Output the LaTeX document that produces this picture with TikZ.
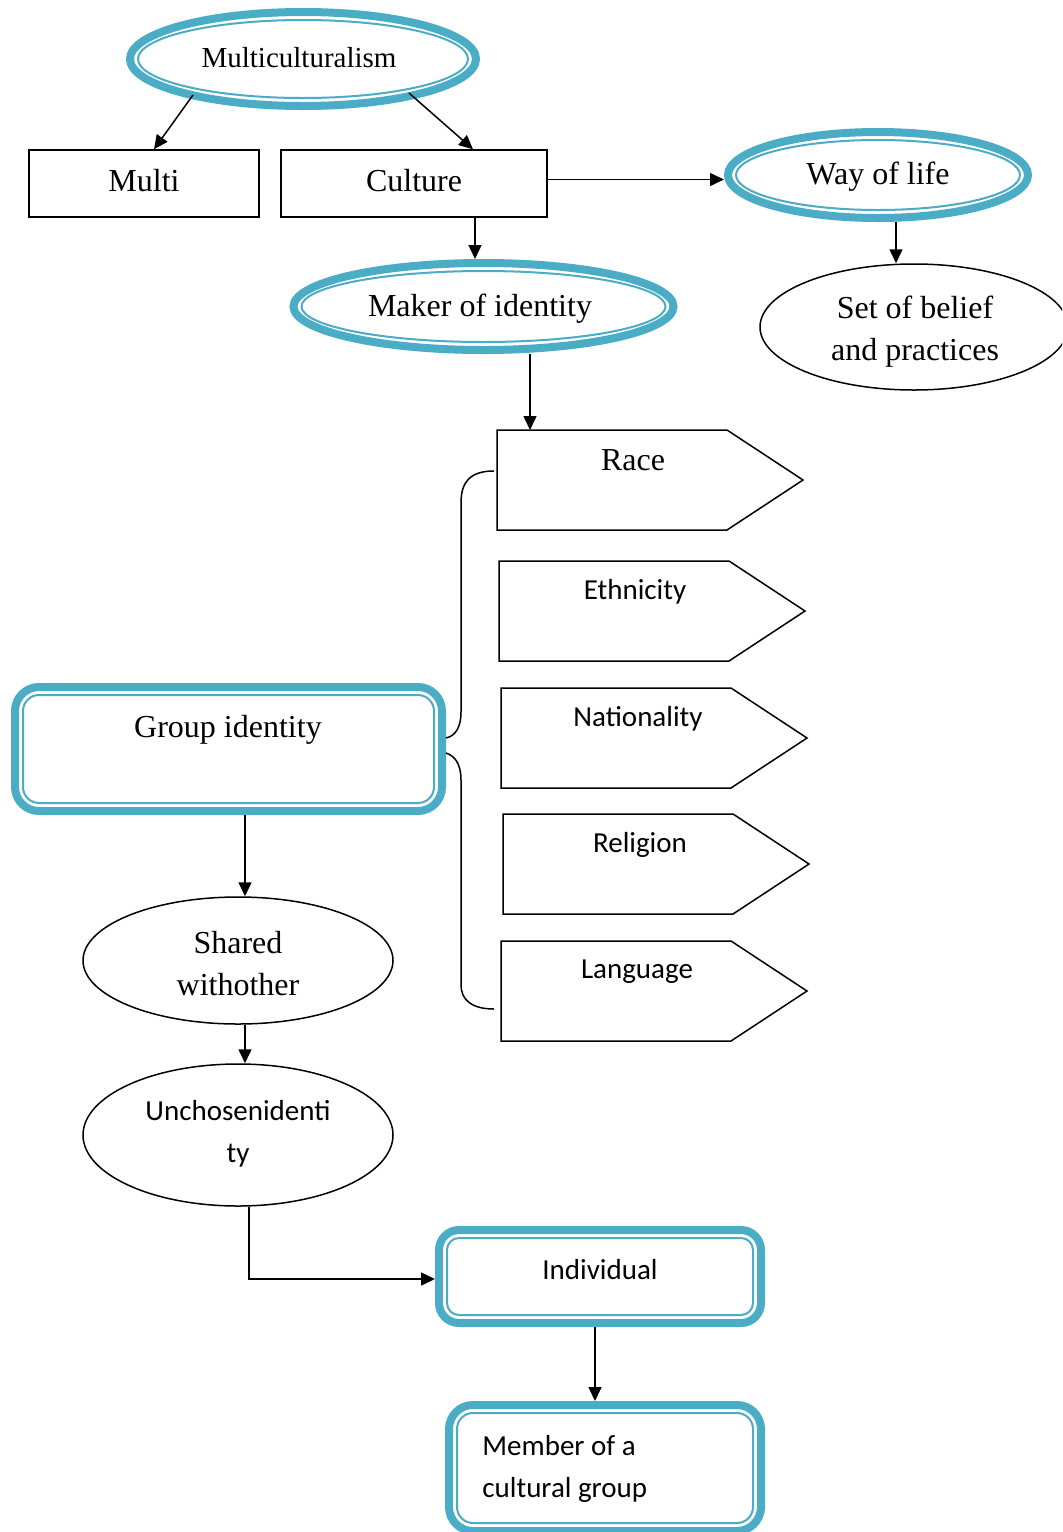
\documentclass[tikz,border=0pt]{standalone}
\usepackage{fontspec}
\setmainfont{Liberation Serif}
\newfontfamily\calfont{Carlito}
\usetikzlibrary{arrows.meta,shapes.geometric,calc}
\definecolor{tealc}{HTML}{4BACC6}
\begin{document}
\begin{tikzpicture}[x=0.5pt,y=-0.5pt,
  tealout/.style={draw=tealc, line width=4pt, inner sep=0pt},
  tealin/.style={draw=tealc, line width=1pt, inner sep=0pt},
  blk/.style={draw=black, line width=0.75pt, inner sep=0pt},
  arr/.style={-{Triangle[length=7pt,width=6.5pt]}, line width=0.75pt},
  serif/.style={font=\fontsize{16}{21}\selectfont, inner sep=0pt},
  sans/.style={font=\calfont\fontsize{14.5}{21}\selectfont, inner sep=0pt}
]
\clip (0,0) rectangle (1062,1532);
\fill[white] (0,0) rectangle (1062,1532);

% Multiculturalism
\node[tealout, ellipse, minimum width=173pt, minimum height=47pt] (mc) at (303,59) {};
\node[tealin, ellipse, minimum width=165pt, minimum height=39pt] (mc-in) at (303,59) {};
\node[font=\fontsize{14.5}{18}\selectfont, inner sep=0pt] (mc-t) at (299,58) {Multiculturalism};

% Multi and Culture
\node[blk, rectangle, minimum width=115pt, minimum height=33.5pt] (mu) at (144,183.5) {};
\node[serif] (mu-t) at (144,181) {Multi};
\node[blk, rectangle, minimum width=133pt, minimum height=33.5pt] (cu) at (414,183.5) {};
\node[serif] (cu-t) at (414,181) {Culture};

% Way of life
\node[tealout, ellipse, minimum width=150pt, minimum height=43pt] (wl) at (878,175) {};
\node[tealin, ellipse, minimum width=142pt, minimum height=35pt] (wl-in) at (878,175) {};
\node[serif] (wl-t) at (878,177) {Way of life};

% Maker of identity
\node[tealout, ellipse, minimum width=190pt, minimum height=43.5pt] (mk) at (483.5,306.5) {};
\node[tealin, ellipse, minimum width=182pt, minimum height=35.5pt] (mk-in) at (483.5,306.5) {};
\node[serif] (mk-t) at (480,309) {Maker of identity};

% Set of belief
\node[blk, ellipse, minimum width=154pt, minimum height=63pt] (se) at (914,327) {};
\node[serif, align=center] (se-t) at (915,332) {Set of belief\\and practices};

% Pentagons
\draw[line width=0.75pt] (497,430) -- (727,430) -- (803,480) -- (727,530) -- (497,530) -- cycle;
\coordinate (race-top) at (530,430);
\node[serif] (race) at (633,460) {Race};
\draw[line width=0.75pt] (499,561) -- (729,561) -- (805,611) -- (729,661) -- (499,661) -- cycle;
\node[sans] (eth) at (635,592) {Ethnicity};
\draw[line width=0.75pt] (501,688) -- (731,688) -- (807,738) -- (731,788) -- (501,788) -- cycle;
\node[sans] (nat) at (638,719) {Nationality};
\draw[line width=0.75pt] (503,814) -- (733,814) -- (809,864) -- (733,914) -- (503,914) -- cycle;
\node[sans] (rel) at (640,845) {Religion};
\draw[line width=0.75pt] (501,941) -- (731,941) -- (807,991) -- (731,1041) -- (501,1041) -- cycle;
\node[sans] (lang) at (637,972) {Language};

% Group identity
\node[tealout, rectangle, rounded corners=12pt, minimum width=213.5pt, minimum height=62pt] (gi) at (228.5,749) {};
\node[tealin, rectangle, rounded corners=8pt, minimum width=205.5pt, minimum height=54pt] (gi-in) at (228.5,749) {};
\node[serif] (gi-t) at (228,730) {Group identity};

% Brace
\coordinate (br-top) at (494,471);
\coordinate (br-bot) at (494,1009);
\draw[line width=0.75pt] (br-top) .. controls (470,471) and (461,482) .. (461,503) -- (461,712)
  .. controls (461,728) and (455,736) .. (gi.east |- 0,738);
\draw[line width=0.75pt] (gi.east |- 0,753) .. controls (455,756) and (461,764) .. (461,780) -- (461,985)
  .. controls (461,1000) and (472,1009) .. (br-bot);

% Shared / Unchosen
\node[blk, ellipse, minimum width=155pt, minimum height=63.5pt] (sh) at (238,960.5) {};
\node[serif, align=center] (sh-t) at (238,964) {Shared\\withother};
\node[blk, ellipse, minimum width=155pt, minimum height=71pt] (un) at (238,1135) {};
\node[sans, align=center] (un-t) at (238,1134) {Unchosenidenti\\ty};

% Individual
\node[tealout, rectangle, rounded corners=10pt, minimum width=161pt, minimum height=46.5pt] (in) at (600,1276.5) {};
\node[tealin, rectangle, rounded corners=6pt, minimum width=153pt, minimum height=38.5pt] (in-in) at (600,1276.5) {};
\node[sans] (in-t) at (600,1270) {Individual};

% Member
\node[tealout, rectangle, rounded corners=12pt, minimum width=156pt, minimum height=63pt] (me) at (605,1468) {};
\node[tealin, rectangle, rounded corners=8pt, minimum width=148pt, minimum height=55pt] (me-in) at (605,1468) {};
\node[sans, align=left, anchor=west] (me-t) at (482,1469) {Member of a\\cultural group};

% Connectors
\draw[arr] ($(mc.center)+(-110,36)$) -- ([xshift=5pt]mu.north);
\draw[arr] ($(mc.center)+(106,34)$) -- ([xshift=29.5pt]cu.north);
\draw[arr] ([yshift=2pt]cu.east) -- ([yshift=2pt]cu.east -| wl.west);
\draw[arr] ([xshift=30.5pt]cu.south) -- ([xshift=30.5pt]cu.south |- mk.north);
\draw[arr] ([xshift=9pt]wl.south) -- ([xshift=9pt]wl.south |- se.north);
\draw[arr] (race-top |- mk.south) -- (race-top);
\draw[arr] ([xshift=8.25pt]gi.south) -- ([xshift=8.25pt]gi.south |- sh.north);
\draw[arr] ([xshift=3.5pt]sh.south) -- ([xshift=3.5pt]sh.south |- un.north);
\draw[arr] ([xshift=5.5pt]un.south) |- ([yshift=-1.25pt]in.west);
\draw[arr] ([xshift=-2.5pt]in.south) -- ([xshift=-2.5pt]in.south |- me.north);
\end{tikzpicture}
\end{document}
